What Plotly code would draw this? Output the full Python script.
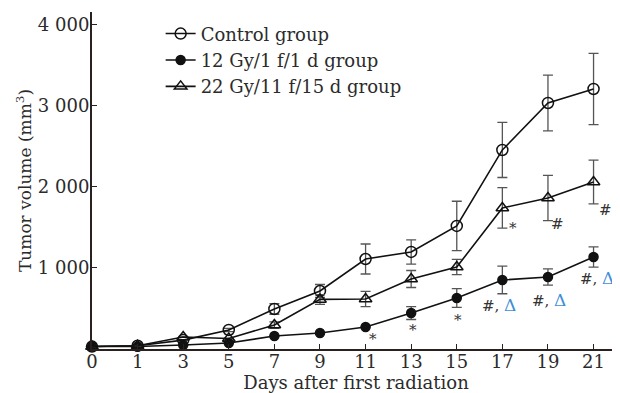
import plotly.graph_objects as go

days = ["0", "1", "3", "5", "7", "9", "11", "13", "15", "17", "19", "21"]

control = [30, 40, 110, 235, 494, 716, 1111, 1198, 1519, 2457, 3037, 3210]
control_err = [0, 0, 0, 20, 65, 80, 185, 150, 305, 340, 345, 440]

gy12 = [30, 30, 50, 74, 160, 198, 272, 444, 630, 852, 889, 1136]
gy12_err = [0, 0, 0, 0, 0, 0, 0, 80, 115, 170, 100, 125]

gy22 = [30, 40, 148, 130, 296, 612, 617, 864, 1012, 1741, 1864, 2062]
gy22_err = [0, 0, 0, 0, 40, 60, 95, 105, 95, 250, 280, 270]

y_ticks = [1000, 2000, 3000, 4000]
y_ticktext = ["1 000", "2 000", "3 000", "4 000"]

FONT = "DejaVu Serif"
TXT = "#2b2b2b"
LINE = "#111111"
ERR = "#555555"

fig = go.Figure()

def add(name, y, err, symbol, size):
    fig.add_trace(go.Scatter(
        x=days, y=y, name=name, mode="lines+markers",
        line=dict(color=LINE, width=1.6),
        marker=dict(symbol=symbol, size=size,
                    color=LINE, line=dict(color=LINE, width=1.5)),
        error_y=dict(type="data", array=err, visible=True, color=ERR,
                     thickness=1.3, width=5),
        cliponaxis=False,
    ))

add("Control group", control, control_err, "circle-open", 11)
add("12 Gy/1 f/1 d group", gy12, gy12_err, "circle", 9)
add("22 Gy/11 f/15 d group", gy22, gy22_err, "triangle-up-open", 11)

# significance labels
def note(i, yv, text, dx, dy):
    fig.add_annotation(x=i, y=yv, xref="x", yref="y", text=text, showarrow=False,
                       xshift=dx, yshift=dy, font=dict(family=FONT, size=15, color="#333"))

tri = "<span style='color:#3d8ed8;font-size:17px'>Δ</span>"
note(9, gy22[9], "*", 11, -20)
note(10, gy22[10], "#", 10, -26)
note(11, gy22[11], "#", 12, -28)
note(6, gy12[6], "*", 7, -12)
note(7, gy12[7], "*", 2, -17)
note(8, gy12[8], "*", 1, -22)
note(9, gy12[9], "#, " + tri, -3, -25)
note(10, gy12[10], "#, " + tri, 1, -23)
note(11, gy12[11], "#, " + tri, 3, -21)

# the page body adds an 8 px offset; size the figure to compensate
fig.update_layout(
    width=612, height=385,
    margin=dict(l=84, r=0, t=4, b=44, autoexpand=False),
    paper_bgcolor="white", plot_bgcolor="white",
    font=dict(family=FONT, size=18, color=TXT),
    showlegend=True,
    legend=dict(x=0.13, y=0.99, xanchor="left", yanchor="top",
                bgcolor="rgba(0,0,0,0)", font=dict(family=FONT, size=18, color=TXT),
                tracegroupgap=0, itemwidth=30),
    xaxis=dict(type="category", range=[0, 11.58], showgrid=False, zeroline=False,
               automargin=False,
               showline=True, linecolor="#2a2020", linewidth=2,
               ticks="inside", ticklen=5, tickcolor="#2a2020", tickwidth=1.3,
               ticklabelstandoff=-5,
               tickfont=dict(family=FONT, size=18, color=TXT),
               title=dict(text="Days after first radiation", standoff=5,
                          font=dict(family=FONT, size=18, color=TXT))),
    yaxis=dict(range=[0, 4160], showgrid=False, zeroline=False,
               automargin=False,
               showline=True, linecolor="#2a2020", linewidth=2,
               ticks="inside", ticklen=5, tickcolor="#2a2020", tickwidth=1.3,
               ticklabelstandoff=-3,
               tickvals=y_ticks, ticktext=y_ticktext,
               tickfont=dict(family=FONT, size=18, color=TXT),
               title=dict(text="Tumor volume (mm<sup>3</sup>)", standoff=2,
                          font=dict(family=FONT, size=17, color=TXT))),
)

fig.write_html("out.html")
